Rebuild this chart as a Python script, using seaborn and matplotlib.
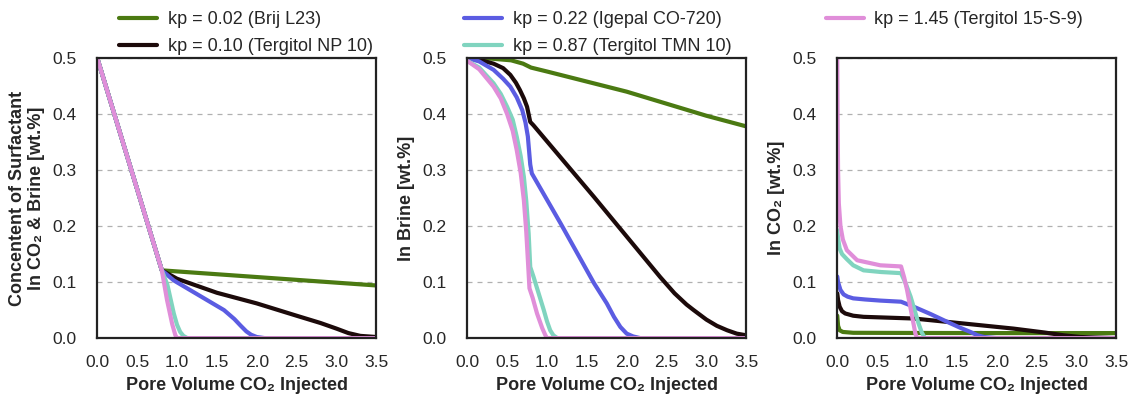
# Surfactant concentration vs pore volume CO2 injected, three panels

import pandas as pd
import seaborn as sns
import matplotlib.pyplot as plt

sns.set_theme(style="white")
plt.rcParams['font.family'] = ['Liberation Sans', 'DejaVu Sans']

labels = ["kp = 0.02 (Brij L23)", "kp = 0.10 (Tergitol NP 10)",
          "kp = 0.22 (Igepal CO-720)", "kp = 0.87 (Tergitol TMN 10)",
          "kp = 1.45 (Tergitol 15-S-9)"]
colors = ["#4b7a12", "#1c0a0a", "#5b5ce2", "#80d4bf", "#e08ed9"]

# panel 1: total (CO2 & brine)
tot_green_x = [0, 0.81, 3.5]
tot_green_y = [0.5, 0.121, 0.094]
tot_black_x = [0, 0.81, 1.0, 1.5, 2.0, 2.5, 2.8, 3.0, 3.15, 3.3, 3.5]
tot_black_y = [0.5, 0.121, 0.106, 0.081, 0.062, 0.04, 0.027, 0.017, 0.009, 0.004, 0.002]
tot_blue_x = [0, 0.81, 0.96, 1.59, 1.72, 1.8, 1.87, 1.93, 2.0, 2.1, 3.5]
tot_blue_y = [0.5, 0.121, 0.103, 0.05, 0.034, 0.022, 0.012, 0.006, 0.002, 0.0, 0.0]
tot_teal_x = [0, 0.81, 0.88, 0.96, 1.0, 1.04, 1.08, 1.13, 3.5]
tot_teal_y = [0.5, 0.121, 0.095, 0.044, 0.024, 0.011, 0.004, 0.0, 0.0]
tot_pink_x = [0, 0.81, 0.875, 0.94, 0.98, 1.0, 3.5]
tot_pink_y = [0.5, 0.121, 0.068, 0.025, 0.005, 0.0, 0.0]

# panel 2: in brine
br_green_x = [0, 0.3, 0.55, 0.7, 0.8, 1.0, 2.0, 3.0, 3.5]
br_green_y = [0.5, 0.499, 0.496, 0.49, 0.483, 0.476, 0.44, 0.397, 0.378]
br_black_x = [0, 0.15, 0.33, 0.45, 0.54, 0.61, 0.66, 0.71, 0.75, 0.79, 0.83,
              1.59, 2.42, 2.6, 2.75, 2.84, 3.0, 3.13, 3.26, 3.38, 3.5]
br_black_y = [0.5, 0.497, 0.49, 0.482, 0.47, 0.456, 0.443, 0.428, 0.413, 0.386, 0.38,
              0.252, 0.109, 0.08, 0.06, 0.05, 0.033, 0.022, 0.014, 0.008, 0.005]
br_blue_x = [0, 0.15, 0.33, 0.45, 0.54, 0.62, 0.69, 0.73, 0.76, 0.79, 0.81,
             1.17, 1.59, 1.75, 1.84, 1.92, 2.0, 2.08, 2.17, 3.5]
br_blue_y = [0.5, 0.494, 0.479, 0.463, 0.449, 0.43, 0.407, 0.385, 0.36, 0.31, 0.294,
             0.205, 0.098, 0.062, 0.038, 0.02, 0.008, 0.003, 0.0, 0.0]
br_teal_x = [0, 0.15, 0.33, 0.42, 0.5, 0.57, 0.62, 0.67, 0.71, 0.74, 0.77, 0.79,
             0.83, 0.96, 1.0, 1.04, 1.08, 1.13, 3.5]
br_teal_y = [0.495, 0.483, 0.455, 0.436, 0.413, 0.39, 0.36, 0.325, 0.288, 0.245,
             0.187, 0.127, 0.11, 0.05, 0.03, 0.014, 0.005, 0.0, 0.0]
br_pink_x = [0, 0.15, 0.33, 0.42, 0.5, 0.57, 0.62, 0.67, 0.71, 0.74, 0.76, 0.78,
             0.82, 0.875, 0.94, 0.98, 1.0, 3.5]
br_pink_y = [0.495, 0.48, 0.449, 0.428, 0.4, 0.37, 0.336, 0.295, 0.246, 0.19,
             0.14, 0.089, 0.072, 0.044, 0.018, 0.005, 0.0, 0.0]

# panel 3: in CO2
co_green_x = [0, 0.01, 0.03, 0.07, 0.2, 1.0, 2.0, 3.5]
co_green_y = [0.04, 0.022, 0.014, 0.011, 0.0095, 0.0092, 0.009, 0.009]
co_black_x = [0, 0.01, 0.03, 0.06, 0.1, 0.2, 0.33, 0.96, 1.59, 2.21, 2.6, 2.84,
              3.05, 3.26, 3.5]
co_black_y = [0.08, 0.068, 0.056, 0.048, 0.044, 0.04, 0.038, 0.035, 0.026, 0.017,
              0.01, 0.005, 0.002, 0.001, 0.0]
co_blue_x = [0, 0.01, 0.04, 0.08, 0.13, 0.2, 0.35, 0.54, 0.8, 0.96, 1.17, 1.38,
             1.55, 1.67, 1.76, 1.84, 2.0, 3.5]
co_blue_y = [0.11, 0.1, 0.086, 0.078, 0.074, 0.071, 0.069, 0.067, 0.065, 0.056,
             0.043, 0.029, 0.018, 0.011, 0.005, 0.002, 0.0, 0.0]
co_teal_x = [0, 0.01, 0.03, 0.06, 0.12, 0.2, 0.33, 0.55, 0.8, 0.86, 0.92, 0.97,
             1.02, 1.06, 1.1, 3.5]
co_teal_y = [0.193, 0.178, 0.16, 0.15, 0.141, 0.13, 0.121, 0.118, 0.116, 0.097,
             0.074, 0.05, 0.026, 0.01, 0.0, 0.0]
co_pink_x = [0, 0.005, 0.01, 0.02, 0.04, 0.07, 0.12, 0.25, 0.54, 0.8, 0.84, 0.875,
             0.94, 0.98, 1.0, 3.5]
co_pink_y = [0.5, 0.38, 0.3, 0.24, 0.2, 0.176, 0.157, 0.139, 0.13, 0.128, 0.108,
             0.086, 0.038, 0.008, 0.0, 0.0]

panels = [
    [(tot_green_x, tot_green_y), (tot_black_x, tot_black_y), (tot_blue_x, tot_blue_y),
     (tot_teal_x, tot_teal_y), (tot_pink_x, tot_pink_y)],
    [(br_green_x, br_green_y), (br_black_x, br_black_y), (br_blue_x, br_blue_y),
     (br_teal_x, br_teal_y), (br_pink_x, br_pink_y)],
    [(co_green_x, co_green_y), (co_black_x, co_black_y), (co_blue_x, co_blue_y),
     (co_teal_x, co_teal_y), (co_pink_x, co_pink_y)],
]
ylabels = ["Concentent of Surfactant\nIn CO\u2082 & Brine [wt.%]",
           "In Brine [wt.%]", "In CO\u2082 [wt.%]"]
legend_idx = [[0, 1], [2, 3], [4]]
legend_x = [0.02, -0.07, -0.1]

fig, axes = plt.subplots(1, 3, figsize=(11.31, 3.95), dpi=100)
fig.subplots_adjust(left=0.086, right=0.987, top=0.853, bottom=0.144, wspace=0.326)

for ax, series, ylab, idx, lx in zip(axes, panels, ylabels, legend_idx, legend_x):
    for i, (xs, ys) in enumerate(series):
        sns.lineplot(x=xs, y=ys, ax=ax, color=colors[i], linewidth=3,
                     estimator=None, label=labels[i])
    ax.set_xlim(0, 3.5)
    ax.set_ylim(0, 0.5)
    ax.set_xticks([0, 0.5, 1.0, 1.5, 2.0, 2.5, 3.0, 3.5])
    ax.set_yticks([0, 0.1, 0.2, 0.3, 0.4, 0.5])
    ax.set_xticklabels([f"{v:.1f}" for v in ax.get_xticks()])
    ax.set_yticklabels([f"{v:.1f}" for v in ax.get_yticks()])
    ax.tick_params(axis="y", labelsize=12.5, pad=9)
    ax.tick_params(axis="x", labelsize=12.5, pad=6)
    ax.yaxis.grid(True, linestyle=(0, (4, 4)), color="#b0b0b0", linewidth=0.9)
    ax.set_xlabel("Pore Volume CO\u2082 Injected", fontsize=13, fontweight="bold",
                  labelpad=5)
    ax.set_ylabel(ylab, fontsize=13, fontweight="bold", labelpad=5)
    for s in ax.spines.values():
        s.set_color("#222222")
        s.set_linewidth(1.6)
    h, l = ax.get_legend_handles_labels()
    ax.legend([h[k] for k in idx], [l[k] for k in idx], loc="upper left",
              bbox_to_anchor=(lx, 1.225), frameon=False, fontsize=13,
              handlelength=2.1, handletextpad=0.6, labelspacing=0.55)

plt.savefig("out.png", dpi=100)
